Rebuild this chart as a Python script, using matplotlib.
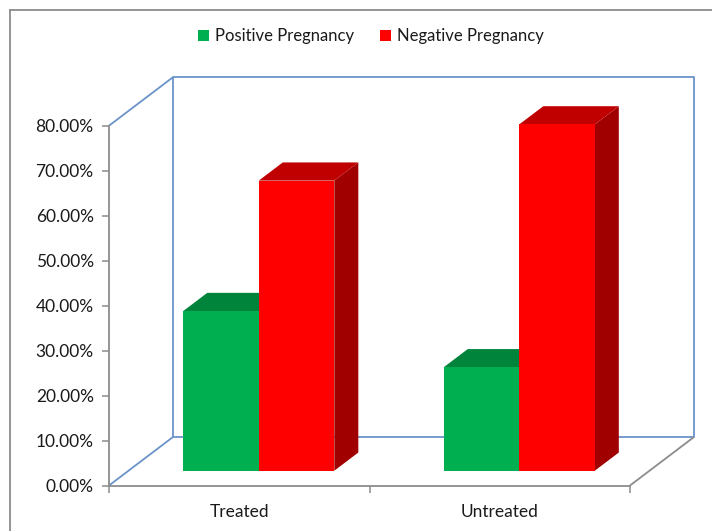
import matplotlib
matplotlib.use("Agg")
import matplotlib.pyplot as plt
from matplotlib.lines import Line2D
from matplotlib.patches import Polygon, Patch
from matplotlib.ticker import FuncFormatter, FixedLocator

categories = ["Treated", "Untreated"]
series_names = ["Positive Pregnancy", "Negative Pregnancy"]
positive = [35.5, 23.0]
negative = [64.5, 77.0]
y_ticks = [0, 10, 20, 30, 40, 50, 60, 70, 80]

FRONT = {"Positive Pregnancy": "#00B050", "Negative Pregnancy": "#FF0000"}
TOP = {"Positive Pregnancy": "#00843C", "Negative Pregnancy": "#C00000"}
SIDE = {"Positive Pregnancy": "#006B30", "Negative Pregnancy": "#A00000"}
WALL = "#6A93C9"
AXIS = "#8C8C8C"
TEXT = "#1A1A1A"
FS = 12.5

W, H = 712, 531
fig = plt.figure(figsize=(W / 100, H / 100), dpi=100)
plt.rcParams["font.family"] = ["Lato", "DejaVu Sans"]

# front plane of the floor: x 109..630 px, y 0% at 485.5 px, 80% at 125.7 px
left_px, right_px, zero_px, top_px = 109, 630, 485.5, 125.7
ax = fig.add_axes([left_px / W, 1 - zero_px / H,
                   (right_px - left_px) / W, (zero_px - top_px) / H])
ax.set_xlim(0, len(categories))
ax.set_ylim(0, 80)

# depth offset of the back wall, expressed in data units
px_x = (right_px - left_px) / len(categories)
px_y = (zero_px - top_px) / 80
DX = 64 / px_x
DY = 48.5 / px_y


def proj(x, y, d):
    return (x + d * DX, y + d * DY)


def line(pts, color, lw=1.3):
    xs, ys = zip(*pts)
    ax.add_line(Line2D(xs, ys, color=color, lw=lw, clip_on=False,
                       solid_capstyle="butt", zorder=1))


# back wall and floor edges
n = len(categories)
line([proj(0, 0, 1), proj(n, 0, 1), proj(n, 80, 1), proj(0, 80, 1),
      proj(0, 0, 1)], WALL)
line([proj(0, 80, 0), proj(0, 80, 1)], WALL)
line([proj(0, 0, 0), proj(0, 0, 1)], WALL)
line([proj(n, 0, 0), proj(n, 0, 1)], AXIS)

# 3D bars
bar_w = 0.29
d0, d1 = 0.305, 0.68


def box(x0, x1, h, name):
    front = [proj(x0, 0, d0), proj(x1, 0, d0), proj(x1, h, d0), proj(x0, h, d0)]
    top = [proj(x0, h, d0), proj(x1, h, d0), proj(x1, h, d1), proj(x0, h, d1)]
    side = [proj(x1, 0, d0), proj(x1, 0, d1), proj(x1, h, d1), proj(x1, h, d0)]
    for pts, col in ((side, SIDE[name]), (top, TOP[name]), (front, FRONT[name])):
        ax.add_patch(Polygon(pts, closed=True, facecolor=col, edgecolor="none",
                             clip_on=False, zorder=3))


for i in range(n):
    c = i + 0.5
    box(c - bar_w, c, positive[i], series_names[0])
    box(c, c + bar_w, negative[i], series_names[1])

# axes styling
for s in ("top", "right"):
    ax.spines[s].set_visible(False)
for s in ("left", "bottom"):
    ax.spines[s].set_color(AXIS)
    ax.spines[s].set_linewidth(1.3)
ax.patch.set_visible(False)

ax.yaxis.set_major_locator(FixedLocator(y_ticks))
ax.yaxis.set_major_formatter(FuncFormatter(lambda v, p: f"{v:.2f}%"))
ax.tick_params(axis="y", direction="out", length=5, width=1.1, color=AXIS,
               pad=6, labelsize=FS, labelcolor=TEXT)

ax.xaxis.set_major_locator(FixedLocator(range(n + 1)))
ax.xaxis.set_major_formatter(FuncFormatter(lambda v, p: ""))
ax.xaxis.set_minor_locator(FixedLocator([i + 0.5 for i in range(n)]))
ax.set_xticklabels(categories, minor=True)
ax.tick_params(axis="x", which="major", direction="out", length=5,
               width=1.1, color=AXIS)
ax.tick_params(axis="x", which="minor", length=0, pad=13, labelsize=FS,
               labelcolor=TEXT)

# legend
handles = [Patch(facecolor=FRONT[s], edgecolor="none") for s in series_names]
fig.legend(handles, series_names, loc="center",
           bbox_to_anchor=(371 / W, 1 - 36 / H), ncol=2, frameon=False,
           fontsize=12, handlelength=0.65, handleheight=0.65,
           handletextpad=0.35, columnspacing=1.6, labelcolor=TEXT)

# chart area border
fig.add_artist(Line2D([10 / W, 10 / W], [0, 1 - 10 / H],
                      transform=fig.transFigure, color=AXIS, lw=1.3))
fig.add_artist(Line2D([10 / W, 1], [1 - 10 / H, 1 - 10 / H],
                      transform=fig.transFigure, color=AXIS, lw=1.3))

fig.savefig("out.png", dpi=100)
